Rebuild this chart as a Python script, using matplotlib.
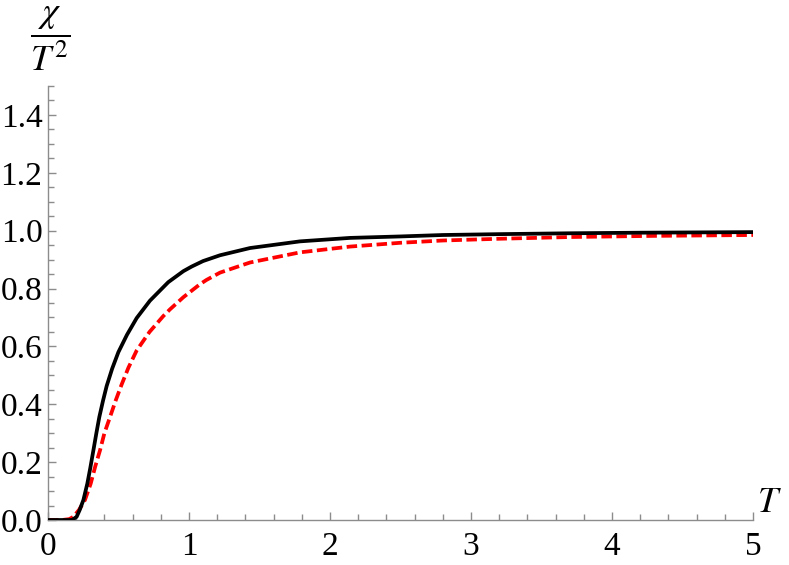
import matplotlib
matplotlib.use("Agg")
import matplotlib.pyplot as plt
from matplotlib.ticker import MultipleLocator

# values
t_black = [0.0, 0.10, 0.17, 0.203, 0.225, 0.251, 0.279, 0.30, 0.322, 0.343, 0.364,
           0.39, 0.416, 0.455, 0.499, 0.56, 0.629, 0.723, 0.853, 0.96, 1.019, 1.1,
           1.22, 1.433, 1.787, 2.142, 2.496, 2.8, 3.2, 3.7, 4.2, 4.6, 5.0]
chi_black = [0.0, 0.0, 0.0, 0.011, 0.035, 0.069, 0.126, 0.18, 0.241, 0.30, 0.356,
             0.412, 0.463, 0.523, 0.580, 0.640, 0.698, 0.758, 0.822, 0.860, 0.876, 0.895,
             0.915, 0.940, 0.963, 0.975, 0.980, 0.985, 0.988, 0.991, 0.993, 0.994, 0.995]

t_red = [0.0, 0.10, 0.15, 0.18, 0.22, 0.262, 0.303, 0.335, 0.369, 0.40, 0.44,
         0.48, 0.522, 0.57, 0.629, 0.72, 0.818, 0.865, 0.96, 1.078, 1.125, 1.22,
         1.433, 1.787, 2.142, 2.496, 2.8, 3.2, 3.7, 4.3, 5.0]
chi_red = [0.0, 0.0, 0.003, 0.011, 0.035, 0.069, 0.126, 0.185, 0.241, 0.30, 0.356,
           0.413, 0.468, 0.526, 0.586, 0.65, 0.705, 0.728, 0.77, 0.815, 0.83, 0.855,
           0.890, 0.925, 0.945, 0.958, 0.966, 0.972, 0.978, 0.982, 0.985]

plt.rcParams['mathtext.fontset'] = 'stix'
plt.rcParams['font.family'] = 'Liberation Serif'

fig = plt.figure(figsize=(7.89, 5.65), dpi=100)
ax = fig.add_axes([48 / 789, 45 / 565, 705 / 789, 434 / 565])

ax.plot(t_black, chi_black, color='black', lw=2.7, solid_joinstyle='round', zorder=3)
ax.plot(t_red, chi_red, color='red', lw=2.7, dashes=(2.8, 1.2), zorder=2)

ax.set_xlim(0, 5)
ax.set_ylim(0, 1.5)
ax.xaxis.set_major_locator(MultipleLocator(1))
ax.xaxis.set_minor_locator(MultipleLocator(0.2))
ax.yaxis.set_major_locator(MultipleLocator(0.2))
ax.yaxis.set_minor_locator(MultipleLocator(0.05))
ax.yaxis.set_major_formatter(plt.FuncFormatter(lambda v, p: f"{v:.1f}"))

for s in ['top', 'right']:
    ax.spines[s].set_visible(False)
for s in ['left', 'bottom']:
    ax.spines[s].set_color('#8c8c8c')
    ax.spines[s].set_linewidth(1.0)

ax.tick_params(which='both', direction='in', color='#8c8c8c', labelsize=24)
ax.tick_params(which='major', length=6, width=1)
ax.tick_params(which='minor', length=4, width=1)
ax.tick_params(axis='y', pad=4)
ax.tick_params(axis='x', pad=8)

ax.text(1.005, 0.0, r'$T$', transform=ax.transAxes, fontsize=26,
        ha='left', va='bottom')
fig.text(50 / 789, 1 - 39 / 565, r'$\dfrac{\chi}{T^2}$', fontsize=26,
         ha='center', va='center')

fig.savefig('out.png', dpi=100)
